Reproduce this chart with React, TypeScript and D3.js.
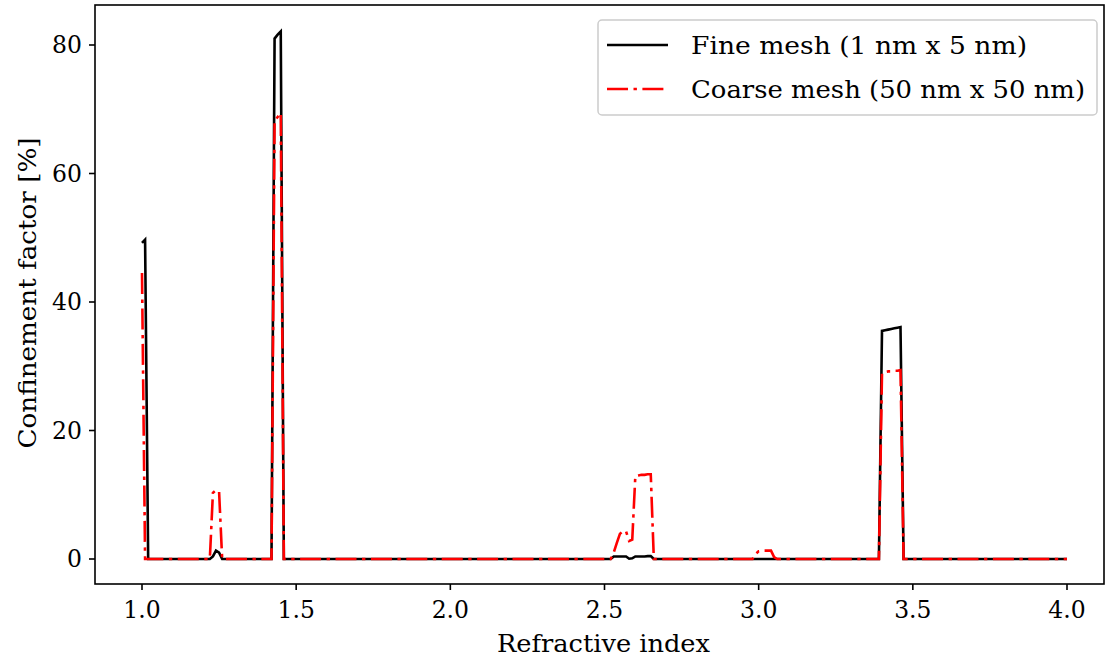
import React from "react";
import * as d3 from "d3";

// Fine mesh (1 nm x 5 nm) — vertices of the curve (zero runs between peaks)
const fineX = [1.0, 1.01, 1.02, 1.22, 1.23, 1.24, 1.25, 1.26, 1.42, 1.43, 1.44, 1.45, 1.46,
  2.52, 2.53, 2.54, 2.55, 2.56, 2.57, 2.58, 2.59, 2.6, 2.61, 2.62, 2.63, 2.64, 2.65, 2.66,
  3.39, 3.4, 3.41, 3.42, 3.43, 3.44, 3.45, 3.46, 3.47, 4.0];
const fineY = [49.2, 49.7, 0, 0, 0.4, 1.3, 1.0, 0, 0, 81.0, 81.6, 82.1, 0,
  0, 0.4, 0.4, 0.4, 0.4, 0.4, 0.05, 0.1, 0.4, 0.4, 0.4, 0.4, 0.45, 0.45, 0,
  0, 35.5, 35.6, 35.7, 35.8, 35.9, 36.0, 36.1, 0, 0];

// Coarse mesh (50 nm x 50 nm)
const coarseX = [1.0, 1.01, 1.22, 1.23, 1.24, 1.25, 1.26, 1.42, 1.43, 1.44, 1.45, 1.46,
  2.52, 2.53, 2.54, 2.55, 2.56, 2.57, 2.58, 2.59, 2.6, 2.61, 2.62, 2.63, 2.64, 2.65, 2.66,
  2.98, 2.99, 3.0, 3.01, 3.02, 3.03, 3.04, 3.05, 3.06,
  3.39, 3.4, 3.41, 3.42, 3.43, 3.44, 3.45, 3.46, 3.47, 4.0];
const coarseY = [44.5, 0, 0, 10.3, 10.7, 10.5, 0, 0, 68.2, 68.8, 69.4, 0,
  0, 1.0, 2.5, 3.9, 4.4, 4.3, 2.8, 3.0, 12.9, 13.0, 13.1, 13.1, 13.2, 13.2, 0,
  0, 0.8, 1.2, 1.3, 1.3, 1.3, 1.3, 0.3, 0,
  0, 28.9, 29.1, 29.2, 29.2, 29.3, 29.3, 29.4, 0, 0];

const xTicks = [1.0, 1.5, 2.0, 2.5, 3.0, 3.5, 4.0];
const yTicks = [0, 20, 40, 60, 80];
const seriesNames = ["Fine mesh (1 nm x 5 nm)", "Coarse mesh (50 nm x 50 nm)"];

const FONT = "'DejaVu Serif', 'Liberation Serif', serif";

export default function App() {
  const left = 95, right = 1104, top = 5, bottom = 584;
  const x = d3.scaleLinear().domain([1, 4]).range([142, 1067]);
  const y = d3.scaleLinear().domain([0, 80]).range([559, 45]);
  const line = d3.line<[number, number]>().x((d) => x(d[0])).y((d) => y(d[1]));
  const fine = line(fineX.map((v, i) => [v, fineY[i]]) as [number, number][]) || "";
  const coarse = line(coarseX.map((v, i) => [v, coarseY[i]]) as [number, number][]) || "";
  const fs = 23.5;
  return (
    <svg width={1105} height={660} style={{ position: "absolute", left: 0, top: 0 }}
      fontFamily={FONT}>
      <rect x={0} y={0} width={1105} height={660} fill="#fff" />
      <path d={fine} fill="none" stroke="#000" strokeWidth={2.6} strokeLinejoin="miter" />
      <path d={coarse} fill="none" stroke="#ff0000" strokeWidth={2.6}
        strokeDasharray="21 5.5 3.4 5.5" />
      <rect x={left} y={top} width={right - left} height={bottom - top} fill="none"
        stroke="#000" strokeWidth={1.6} />
      {xTicks.map((t) => (
        <g key={t}>
          <line x1={x(t)} x2={x(t)} y1={bottom} y2={bottom + 6} stroke="#000" strokeWidth={1.6} />
          <text x={x(t)} y={618} fontSize={fs} textAnchor="middle">{t.toFixed(1)}</text>
        </g>
      ))}
      {yTicks.map((t) => (
        <g key={t}>
          <line x1={left - 6} x2={left} y1={y(t)} y2={y(t)} stroke="#000" strokeWidth={1.6} />
          <text x={82} y={y(t) + 8} fontSize={fs} textAnchor="end">{t}</text>
        </g>
      ))}
      <text x={603.5} y={652} fontSize={fs} textAnchor="middle" textLength={213}
        lengthAdjust="spacingAndGlyphs">Refractive index</text>
      <text transform="translate(36,293) rotate(-90)" fontSize={fs} textAnchor="middle"
        textLength={311} lengthAdjust="spacingAndGlyphs">
        Confinement factor [%]
      </text>
      <rect x={598} y={20} width={499} height={95} rx={4} fill="#fff" fillOpacity={0.8}
        stroke="#cccccc" strokeWidth={1.5} />
      <line x1={607} x2={668} y1={45} y2={45} stroke="#000" strokeWidth={2.6} />
      <line x1={607} x2={668} y1={89} y2={89} stroke="#ff0000" strokeWidth={2.6}
        strokeDasharray="21 5.5 3.4 5.5" />
      <text x={691} y={54} fontSize={fs} textLength={336}
        lengthAdjust="spacingAndGlyphs">{seriesNames[0]}</text>
      <text x={691} y={98} fontSize={fs} textLength={394}
        lengthAdjust="spacingAndGlyphs">{seriesNames[1]}</text>
    </svg>
  );
}
